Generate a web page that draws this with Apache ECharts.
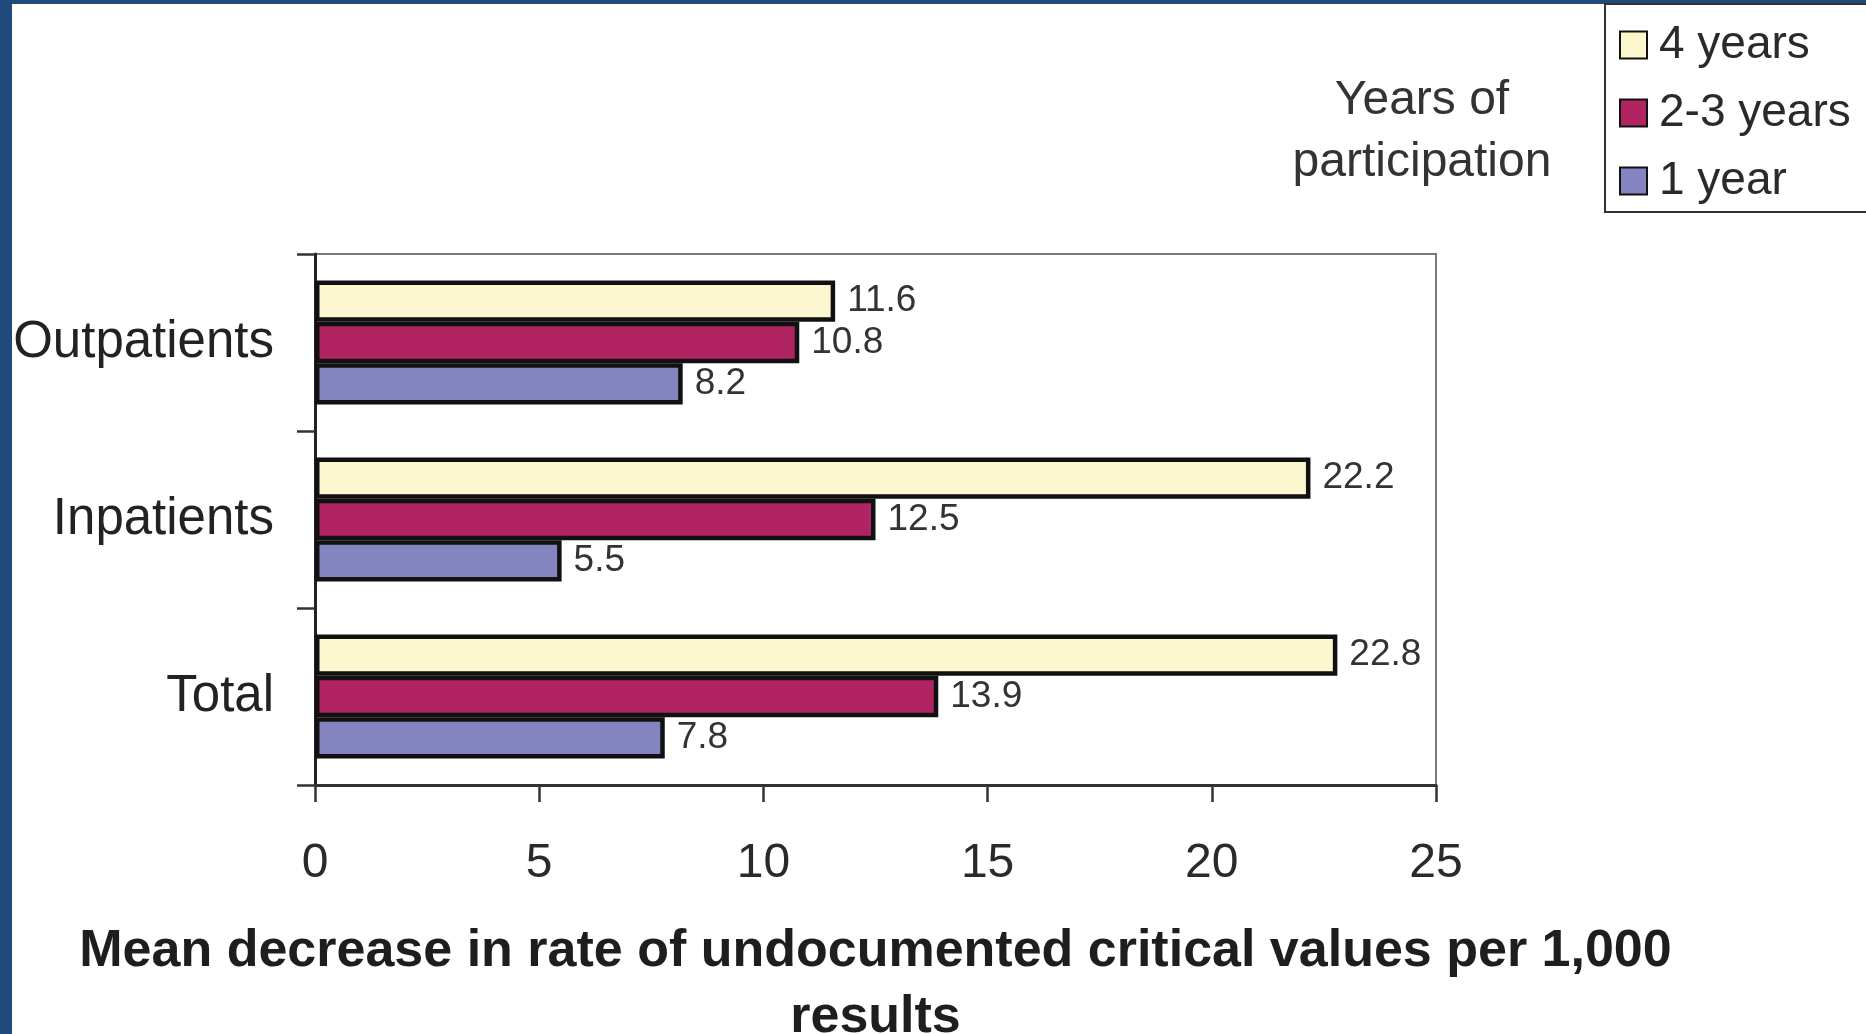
<!DOCTYPE html>
<html>
<head>
<meta charset="utf-8">
<title>Mean decrease in rate of undocumented critical values</title>
<script src="https://cdn.jsdelivr.net/npm/echarts@6/dist/echarts.min.js"></script>
<style>
  html, body { margin: 0; padding: 0; background: #ffffff; }
  #chart { width: 1866px; height: 1034px; }
</style>
</head>
<body>
<div id="chart"></div>
<script>
// Patient groups shown on the vertical axis (top to bottom)
const categories = ['Outpatients', 'Inpatients', 'Total'];

// Mean decrease per 1,000 results, by years of participation
const fourYears = [11.6, 22.2, 22.8];
const twoThreeYears = [10.8, 12.5, 13.9];
const oneYear = [8.2, 5.5, 7.8];

const seriesNames = ['4 years', '2-3 years', '1 year'];
const xTicks = [0, 5, 10, 15, 20, 25];

const FONT = '"Liberation Sans", Arial, Helvetica, sans-serif';
const colors = ['#fcf7cf', '#b12462', '#8484c0'];
const seriesData = [fourYears, twoThreeYears, oneYear];

const chart = echarts.init(document.getElementById('chart'), null, { renderer: 'canvas' });

const series = seriesNames.map((name, i) => ({
  name: name,
  type: 'bar',
  data: seriesData[i],
  barGap: '0%',
  barCategoryGap: '30%',
  itemStyle: { color: colors[i], borderColor: '#111111', borderWidth: 4.5 },
  label: {
    show: true,
    position: 'right',
    distance: 12,
    fontFamily: FONT,
    fontSize: 37,
    color: '#333333'
  },
  emphasis: { disabled: true }
}));

const option = {
  animation: false,
  backgroundColor: '#ffffff',
  textStyle: { fontFamily: FONT },
  graphic: [
    // dark blue frame along the left and top edges of the figure
    { type: 'rect', left: 0, top: 0, z: -10, shape: { width: 12, height: 1034 }, style: { fill: '#1f4a7c' } },
    { type: 'rect', left: 0, top: 0, z: -10, shape: { width: 1866, height: 4 }, style: { fill: '#1f4a7c' } }
  ],
  title: {
    text: 'Years of\nparticipation',
    left: 1422,
    top: 70,
    textAlign: 'center',
    padding: 0,
    textStyle: {
      fontFamily: FONT,
      fontSize: 48,
      lineHeight: 62,
      fontWeight: 'normal',
      color: '#333333'
    }
  },
  legend: {
    data: seriesNames,
    orient: 'vertical',
    left: 1605,
    top: 4,
    padding: [18, 80, 8, 14],
    itemGap: 22,
    itemWidth: 27,
    itemHeight: 27,
    icon: 'rect',
    backgroundColor: '#ffffff',
    borderColor: '#333333',
    borderWidth: 2,
    selectedMode: false,
    textStyle: {
      fontFamily: FONT,
      fontSize: 46,
      lineHeight: 46,
      color: '#2a2a2a',
      padding: [0, 0, 0, 7]
    }
  },
  grid: {
    left: 315,
    right: 430,
    top: 254,
    bottom: 249,
    show: true,
    borderColor: '#7a7a7a',
    borderWidth: 2,
    outerBoundsMode: 'none',
    containLabel: false
  },
  xAxis: {
    type: 'value',
    min: 0,
    max: 25,
    interval: 5,
    name: 'Mean decrease in rate of undocumented critical values per 1,000\nresults',
    nameLocation: 'middle',
    nameGap: 134,
    nameTextStyle: {
      fontFamily: FONT,
      fontSize: 52,
      fontWeight: 'bold',
      lineHeight: 66,
      color: '#1e1e1e',
      align: 'center'
    },
    axisLine: { show: true, lineStyle: { color: '#333333', width: 3 } },
    axisTick: { show: true, length: 17, lineStyle: { color: '#333333', width: 2.5 } },
    splitLine: { show: false },
    axisLabel: {
      margin: 55,
      fontFamily: FONT,
      fontSize: 48,
      lineHeight: 48,
      color: '#2a2a2a',
      formatter: (v) => (xTicks.indexOf(v) >= 0 ? String(v) : '')
    }
  },
  yAxis: {
    type: 'category',
    data: categories,
    inverse: true,
    axisLine: { show: true, lineStyle: { color: '#222222', width: 3 } },
    axisTick: { show: true, length: 18, alignWithLabel: false, lineStyle: { color: '#333333', width: 2.5 } },
    splitLine: { show: false },
    axisLabel: {
      margin: 41,
      fontFamily: FONT,
      fontSize: 51,
      color: '#222222'
    }
  },
  series: series
};

chart.setOption(option);
</script>
</body>
</html>
